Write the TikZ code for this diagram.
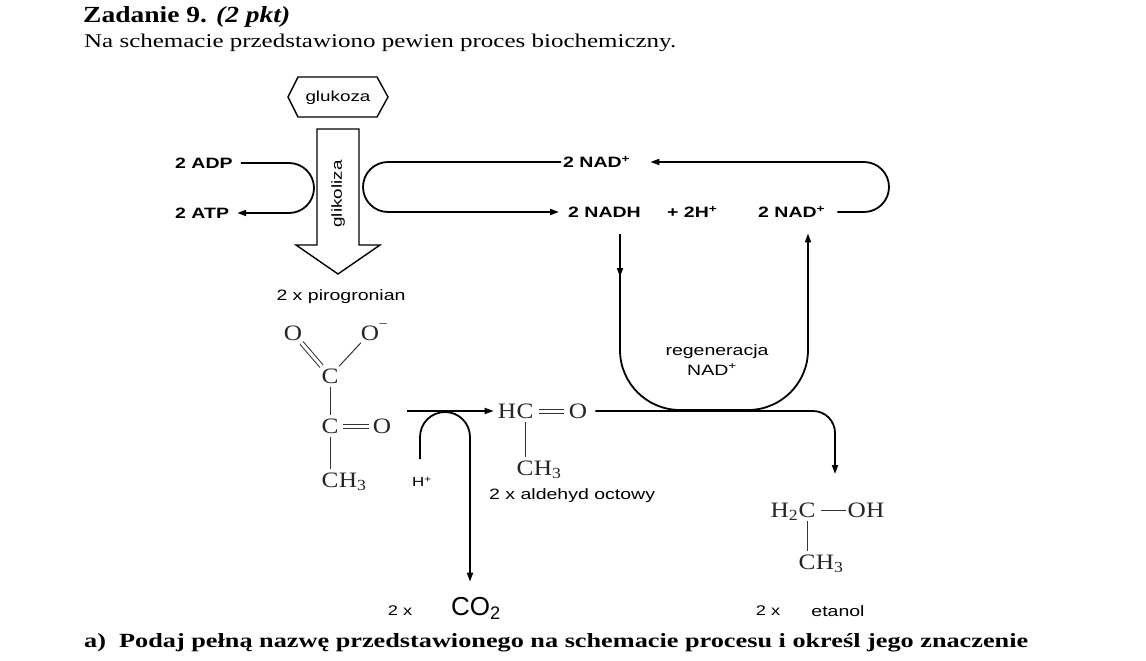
\documentclass[tikz,border=0pt]{standalone}
\usepackage{graphicx}
\usepackage{fontspec}
\setmainfont{Liberation Serif}
\newfontfamily\lab[FakeStretch=1.3]{Liberation Sans}
\newfontfamily\labn{Liberation Sans}
\newfontfamily\chem[FakeStretch=1.15]{Liberation Serif}
\usetikzlibrary{arrows.meta,decorations.markings}
\begin{document}
\begin{tikzpicture}[x=1pt,y=-1pt,
  line/.style={line width=1.8pt},
  arr/.style={line width=1.8pt,-{Triangle[length=9pt,width=6pt]}},
  outl/.style={line width=1.4pt},
  lbl/.style={font=\lab\fontsize{15}{18}\selectfont, inner sep=0pt},
  blbl/.style={font=\lab\bfseries\fontsize{15}{18}\selectfont, inner sep=0pt},
  atom/.style={font=\chem\fontsize{22}{26}\selectfont, inner sep=0pt, text=black!85},
  bond/.style={line width=1pt, black!80, shorten <=3pt, shorten >=3pt},
  dbond/.style={bond, double=white, double distance=3pt},
  midarr/.style={postaction={decorate}, decoration={markings, mark=at position 0.45 with {\arrow{Triangle[length=9pt,width=6pt]}}}}
]
\useasboundingbox (0,0) rectangle (1146,661);
\fill[white] (0,0) rectangle (1146,661);

% header and footer text
\node[anchor=base west, inner sep=0] (title) at (83,23) {\resizebox{207pt}{16pt}{\bfseries Zadanie 9. \textit{(2 pkt)}}};
\node[anchor=base west, inner sep=0] (intro) at (84,47) {\resizebox{592pt}{13.5pt}{Na schemacie przedstawiono pewien proces biochemiczny.}};
\node[anchor=base west, inner sep=0] (quest) at (84,647) {\resizebox{944pt}{14pt}{\bfseries a)\ \ Podaj pełną nazwę przedstawionego na schemacie procesu i określ jego znaczenie}};

% glucose and glycolysis arrow
\node[lbl, font=\lab\fontsize{14.5}{17}\selectfont] (glu) at (338,98) {glukoza};
\draw[outl] (glu.center) ++(-50,-1) -- ++(10,-20) -- ++(79,0) -- ++(11,20) -- ++(-11,20) -- ++(-79,0) -- cycle;
\draw[outl] (317,129) -- (359,129) -- (359,245) -- (380,245) -- (338,274) -- (296,245) -- (317,245) -- cycle;
\node[lbl, font=\lab\fontsize{14.5}{17}\selectfont, rotate=90] (gly) at (338,194) {glikoliza};
\node[lbl] (pir) at (341,297) {2 x pirogronian};

% ADP / ATP
\node[blbl, anchor=west] (adp) at (175,163) {2 ADP};
\node[blbl, anchor=west] (atp) at (175,213) {2 ATP};
\draw[arr, shorten <=8pt, shorten >=8pt] (adp.east) -- (289,163) arc(-90:90:25) -- (atp.east);

% NAD cycle
\node[blbl, anchor=west] (nad1) at (563,162) {2 NAD\smash{\textsuperscript{+}}};
\node[blbl, anchor=west] (nadh) at (568,212) {2 NADH};
\node[blbl, anchor=west] (hh) at (667,212) {+ 2H\smash{\textsuperscript{+}}};
\node[blbl, anchor=west] (nad2) at (758,212) {2 NAD\smash{\textsuperscript{+}}};
\draw[arr, shorten <=2pt, shorten >=9pt] (nad1.west) -- (388,162) arc(-90:-270:25) -- (nadh.west);
\draw[arr, shorten <=12pt, shorten >=20pt] (nad2.east) -- (864,212) arc(90:-90:25) -- (nad1.east);

\coordinate (dn) at (620,350);
\coordinate (upx) at (808,0);
\draw[line, midarr, shorten <=17pt] (nadh.south -| dn) -- (dn);
\draw[arr, shorten >=16pt] (dn) arc(180:90:60) -- (748,410) arc(90:0:60) -- (nad2.south -| upx);
\node[lbl] (reg) at (717,352) {regeneracja};
\node[lbl] (regn) at (712,370) {NAD\smash{\textsuperscript{+}}};

% pyruvate
\node[atom] (pO1) at (293,333) {O};
\node[atom] (pO2) at (370,333) {O};
\node[atom, font=\chem\fontsize{14}{14}\selectfont, anchor=west] (pO2c) at ([xshift=-1pt,yshift=-1pt]pO2.north east) {−};
\node[atom] (pC1) at (330,376) {C};
\node[atom] (pC2) at (330,426) {C};
\node[atom] (pO3) at (382,426) {O};
\node[atom] (pC3) at (330,480) {C};
\node[atom, anchor=base west] (pH3) at (pC3.base east) {H\textsubscript{3}};
\draw[dbond] (pO1) -- (pC1);
\draw[bond] (pO2) -- (pC1);
\draw[bond] (pC1) -- (pC2);
\draw[dbond, shorten <=4pt, shorten >=4pt] (pC2) -- (pO3);
\draw[bond] (pC2) -- (pC3);

% decarboxylation
\coordinate (pst) at (407,411);
\node[atom] (aC) at (525,411) {C};
\node[atom, anchor=base east] (aH) at (aC.base west) {H};
\node[atom] (aO) at (578,411) {O};
\node[atom] (aC3) at (525,468) {C};
\node[atom, anchor=base west] (aH3) at (aC3.base east) {H\textsubscript{3}};
\draw[dbond, shorten <=5pt, shorten >=5pt] (aC) -- (aO);
\draw[bond] (aC) -- (aC3);
\draw[arr, shorten >=4pt] (pst) -- (aH.west);
\node[lbl, anchor=west] (ald) at (489,496) {2 x aldehyd octowy};

\node[lbl, font=\lab\fontsize{13}{15}\selectfont] (hplus) at (422,482) {H\textsuperscript{+}};
\coordinate (cx) at (470,0);
\node[lbl, font=\lab\fontsize{14}{16}\selectfont] (x1) at (400,611) {2 x};
\node[font=\labn\fontsize{26}{30}\selectfont, inner sep=0pt] (co2) at (476,608) {CO\textsubscript{2}};
\draw[arr, shorten <=18pt, shorten >=15pt] (hplus.north -| 420,0) -- (420,437) arc(180:360:25) -- (co2.north -| cx);

% reduction to ethanol
\coordinate (etip) at (835,474);
\draw[arr, shorten <=8pt] (aO.east) -- (813,411) arc(-90:0:22) -- (etip);
\node[atom] (eC) at (807,510) {C};
\node[atom, anchor=base east] (eH2) at (eC.base west) {H\textsubscript{2}};
\node[atom] (eOH) at (866,510) {OH};
\node[atom] (eC3) at (807,562) {C};
\node[atom, anchor=base west] (eH3) at (eC3.base east) {H\textsubscript{3}};
\draw[bond, shorten <=5pt, shorten >=2pt] (eC) -- (eOH);
\draw[bond] (eC) -- (eC3);
\node[lbl, font=\lab\fontsize{14}{16}\selectfont] (x2) at (768,611) {2 x};
\node[lbl] (etan) at (838,611) {etanol};
\end{tikzpicture}
\end{document}
